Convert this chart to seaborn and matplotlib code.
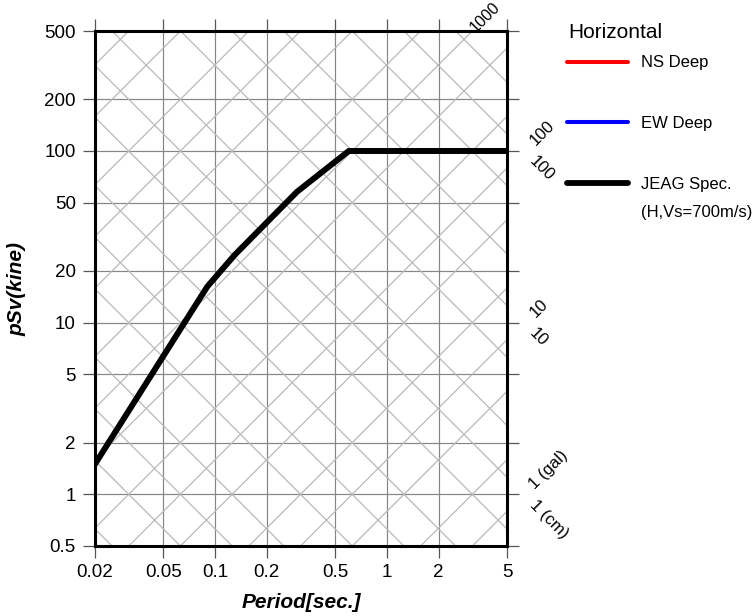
import numpy as np
import pandas as pd
import matplotlib
matplotlib.use("Agg")
import matplotlib.pyplot as plt
from matplotlib.lines import Line2D
from matplotlib.ticker import NullLocator, FixedLocator, FixedFormatter
import seaborn as sns

# JEAG design spectrum control points (horizontal, Vs = 700 m/s)
jeag_period = [0.02, 0.09, 0.13, 0.30, 0.60, 5.0]
jeag_psv = [1.5, 16.2, 24.8, 57.9, 100.0, 100.0]

x_ticks = [0.02, 0.05, 0.1, 0.2, 0.5, 1, 2, 5]
x_tick_labels = ["0.02", "0.05", "0.1", "0.2", "0.5", "1", "2", "5"]
y_ticks = [0.5, 1, 2, 5, 10, 20, 50, 100, 200, 500]
y_tick_labels = ["0.5", "1", "2", "5", "10", "20", "50", "100", "200", "500"]

# constant pseudo-acceleration (gal) and displacement (cm) guide levels
accel_levels = [m * 10 ** e for e in range(0, 6) for m in (1, 2, 5)]
disp_levels = [m * 10.0 ** e for e in range(-3, 3) for m in (1, 2, 5)]
accel_labels = {1: "1 (gal)", 10: "10", 100: "100", 1000: "1000"}
disp_labels = {1: "1 (cm)", 10: "10", 100: "100"}

legend_labels = ["NS Deep", "EW Deep", "JEAG Spec."]
legend_colors = ["#ff0000", "#0000ff", "#000000"]
legend_widths = [2.9, 2.9, 4.2]

sns.set_theme(style="ticks")
plt.rcParams["font.family"] = ["Liberation Sans", "DejaVu Sans"]
plt.rcParams["text.color"] = "black"
plt.rcParams["axes.labelcolor"] = "black"

W, H = 756, 616
fig = plt.figure(figsize=(W / 100, H / 100), dpi=100)
ax = fig.add_axes([95 / W, 1 - 546 / H, 412 / W, 515 / H])
ax.set_xscale("log")
ax.set_yscale("log")
ax.set_xlim(0.02, 5)
ax.set_ylim(0.5, 500)

# tripartite guide lines
t_line = np.array([1e-3, 1e2])
two_pi = 2 * np.pi
for a in accel_levels:
    ax.plot(t_line, a * t_line / two_pi, color="#b9b9b9", lw=0.9, zorder=1)
for d in disp_levels:
    ax.plot(t_line, two_pi * d / t_line, color="#b9b9b9", lw=0.9, zorder=1)

ax.grid(True, which="major", color="#858585", lw=0.85, zorder=1.5)
ax.set_axisbelow(True)

df = pd.DataFrame({"period": jeag_period, "psv": jeag_psv})
sns.lineplot(data=df, x="period", y="psv", color="black", linewidth=4.3,
             sort=False, estimator=None, ax=ax, legend=False, zorder=3)

# labels of the guide lines, set just outside the frame
t_lab = 7.0
for a, s in accel_labels.items():
    t0 = t_lab
    fs = 12
    if a * t_lab / two_pi > 500:
        t0 = two_pi * 500 / a * 1.01
        fs = 11.5
    ax.text(t0, a * t0 / two_pi, s, rotation=45, rotation_mode="anchor",
            ha="left", va="center", fontsize=fs, clip_on=False)
for d, s in disp_labels.items():
    ax.text(t_lab, two_pi * d / t_lab, s, rotation=-45, rotation_mode="anchor",
            ha="left", va="center", fontsize=12, clip_on=False)

ax.xaxis.set_major_locator(FixedLocator(x_ticks))
ax.xaxis.set_major_formatter(FixedFormatter(x_tick_labels))
ax.yaxis.set_major_locator(FixedLocator(y_ticks))
ax.yaxis.set_major_formatter(FixedFormatter(y_tick_labels))
ax.xaxis.set_minor_locator(NullLocator())
ax.yaxis.set_minor_locator(NullLocator())
ax.tick_params(which="major", direction="out", length=8.8, width=0.9,
               color="#555555", top=True, right=True, labeltop=False,
               labelright=False, labelsize=13.5, labelcolor="black")
ax.tick_params(axis="x", pad=4.5)
ax.tick_params(axis="y", pad=5)

for sp in ax.spines.values():
    sp.set_visible(True)
    sp.set_color("black")
    sp.set_linewidth(2.2)
    sp.set_zorder(4)

ax.set_xlabel("Period[sec.]", fontsize=15, fontweight="bold", fontstyle="italic")
ax.set_ylabel("pSv(kine)", fontsize=15, fontweight="bold", fontstyle="italic")
ax.xaxis.label.set_va("center")
ax.yaxis.label.set_va("center")
ax.xaxis.set_label_coords(0.5, (546 - 603) / 515)
ax.yaxis.set_label_coords((17 - 95) / 412, 0.5)

handles = [Line2D([], [], color=c, lw=w) for c, w in zip(legend_colors, legend_widths)]
ax.legend(handles, legend_labels, loc="upper left",
          bbox_to_anchor=(567 / W, 1 - 55.5 / H), bbox_transform=fig.transFigure,
          frameon=False, fontsize=12, handlelength=3.66, handletextpad=0.78,
          labelspacing=2.74, borderpad=0, borderaxespad=0)
fig.text(568 / W, 1 - 32 / H, "Horizontal", fontsize=15, ha="left", va="center")
fig.text(641 / W, 1 - 213 / H, "(H,Vs=700m/s)", fontsize=12, ha="left", va="center")

fig.savefig("out.png", dpi=100)
